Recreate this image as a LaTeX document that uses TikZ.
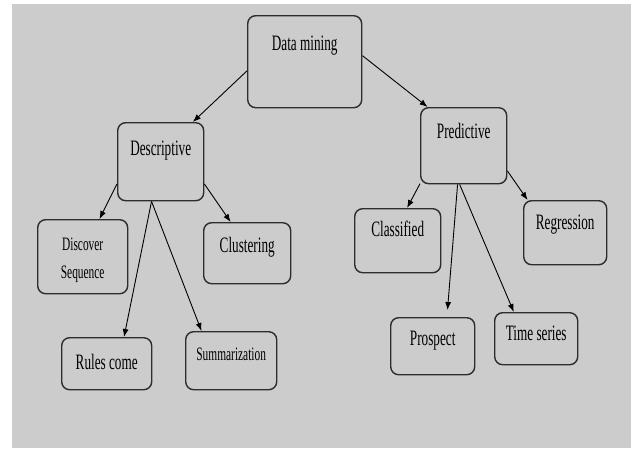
\documentclass[tikz,border=0pt]{standalone}
\usepackage{fontspec}
\setmainfont{Liberation Serif}[FakeStretch=0.6]
\usetikzlibrary{arrows.meta,calc}
\definecolor{bggray}{RGB}{204,204,204}
\definecolor{rand}{RGB}{45,45,45}
\tikzset{
    >={Latex[length=8pt,width=6pt]},
    blok/.style={
           rectangle, rounded corners=8pt,
           draw=rand, line width=1.4pt,
           inner sep=0pt, anchor=north west,
           text centered,
           font=\fontsize{22}{26}\selectfont},
    klein/.style={
           font=\fontsize{19}{28}\selectfont},
    pil/.style={
           ->,
           line width=0.9pt}
}
\begin{document}
\begin{tikzpicture}[x=1pt, y=-1pt]
        \useasboundingbox (0,0) rectangle (631,448);
        \fill[bggray] (12,4) rectangle (631,448);

        \node[blok, minimum width=114pt, text height=35pt, text depth=57pt] (dm) at (247,15) {Data mining};
        \node[blok, minimum width=86pt, text height=33pt, text depth=45pt] (desc) at (117,122) {Descriptive};
        \node[blok, minimum width=86pt, text height=31pt, text depth=45pt] (pred) at (420,107) {Predictive};

        \node[blok, klein, align=center, minimum width=90pt, text height=59pt, text depth=15pt] (disc) at (37,219) {Discover\\Sequence};
        \node[blok, minimum width=87pt, text height=30pt, text depth=31pt] (clu) at (203,222) {Clustering};
        \node[blok, minimum width=90pt, text height=32pt, text depth=20pt] (rul) at (61,337) {Rules come};
        \node[blok, klein, minimum width=91pt, text height=29pt, text depth=29pt] (summ) at (185,331) {Summarization};

        \node[blok, minimum width=86pt, text height=28pt, text depth=36pt] (cls) at (354,208) {Classified};
        \node[blok, minimum width=83pt, text height=29pt, text depth=35pt] (reg) at (523,200) {Regression};
        \node[blok, minimum width=84pt, text height=28pt, text depth=29pt] (pros) at (390,317) {Prospect};
        \node[blok, minimum width=83pt, text height=28pt, text depth=24pt] (ts) at (494,312) {Time series};

        \draw[pil] (dm.189) -- (desc.51);
        \draw[pil] (dm.6) -- (pred.133);
        \draw[pil] (desc.207) -- (disc.66);
        \draw[pil] (desc.257) -- (rul.57);
        \draw[pil] (desc.257) -- (summ.135);
        \draw[pil] (desc.-27) -- (clu.118);
        \draw[pil] (pred.221) -- (cls.74);
        \draw[pil, shorten >=7pt] (pred.261) -- (pros.64);
        \draw[pil] (pred.264) -- (ts.130);
        \draw[pil] (pred.-30) -- (reg.139);
    \end{tikzpicture}
\end{document}
